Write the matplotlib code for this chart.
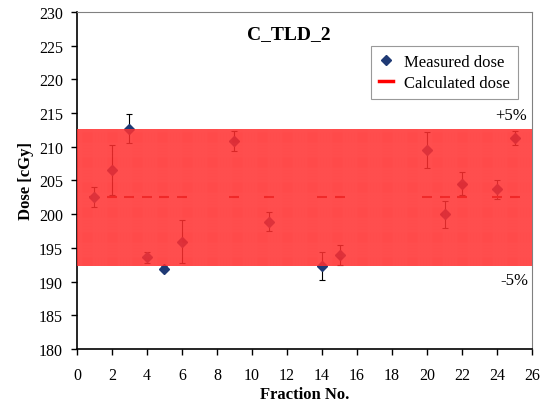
import matplotlib.pyplot as plt
from matplotlib.lines import Line2D

plt.rcParams['font.family'] = ['Liberation Serif', 'DejaVu Serif']

# Data
fractions = [1, 2, 3, 4, 5, 6, 9, 11, 14, 15, 20, 21, 22, 24, 25]
measured = [202.6, 206.6, 212.7, 193.6, 191.9, 195.9, 210.9, 198.9, 192.3, 193.9,
             209.5, 200.0, 204.5, 203.7, 211.3]
errors = [1.5, 3.7, 2.1, 0.8, 0.4, 3.2, 1.5, 1.4, 2.1, 1.5, 2.7, 2.0, 1.7, 1.4, 1.1]
calculated = 202.5
tolerance = 0.05

fig = plt.figure(figsize=(5.44, 4.02), dpi=100)
ax = fig.add_axes([0.1415, 0.1294, 0.8365, 0.8383])

navy = '#1F3A75'

# Measured points with error bars
ax.errorbar(fractions, measured, yerr=errors, fmt='D', color=navy,
            markersize=5, ecolor='black', elinewidth=0.8, capsize=2,
            capthick=0.8, zorder=2)

# Calculated dose dashes
ax.plot(fractions, [calculated] * len(fractions), linestyle='none', marker='_',
        markersize=7, markeredgewidth=1.5, color='#A00000', zorder=2)

# +/-5% tolerance band, drawn over the points like the original
lo, hi = calculated * (1 - tolerance), calculated * (1 + tolerance)
plt.rcParams['hatch.linewidth'] = 0.3
ax.fill_between([0, 26], lo, hi, facecolor='#FF0000', alpha=0.83, linewidth=0, zorder=3)
ax.fill_between([0, 26], lo, hi, facecolor='none', edgecolor=(1, 1, 1, 0.2),
                hatch='+' * 16, linewidth=0, zorder=3)

ax.text(25.7, hi + 0.9, '+5%', ha='right', va='bottom', fontsize=12)
ax.text(25.8, lo - 0.9, '-5%', ha='right', va='top', fontsize=12)

ax.text(12.1, 226.8, 'C_TLD_2', ha='center', va='center', fontsize=14, fontweight='bold')

ax.set_xlim(0, 26)
ax.set_ylim(180, 230)
ax.set_xticks(range(0, 27, 2))
ax.set_yticks(range(180, 231, 5))
ax.tick_params(labelsize=11.5, direction='out', length=4, width=1)
ax.tick_params(axis='x', pad=9)
ax.tick_params(axis='y', pad=6)
ax.set_xlabel('Fraction No.', fontsize=12, fontweight='bold', labelpad=2)
ax.set_ylabel('Dose [cGy]', fontsize=12, fontweight='bold', labelpad=4)

for side in ['top', 'right']:
    ax.spines[side].set_color('#808080')
for side in ['left', 'bottom']:
    ax.spines[side].set_linewidth(1.2)

handles = [
    Line2D([], [], linestyle='none', marker='D', color=navy, markersize=5),
    Line2D([], [], color='red', linewidth=2.5),
]
leg = ax.legend(handles, ['Measured dose', 'Calculated dose'], loc='upper right',
                bbox_to_anchor=(0.97, 0.9), fontsize=12, frameon=True, fancybox=False,
                edgecolor='#808080', handlelength=0.8, handletextpad=0.7,
                borderpad=0.5, labelspacing=0.3, borderaxespad=0)
leg.get_frame().set_linewidth(0.8)

plt.savefig('out.png', dpi=100)
